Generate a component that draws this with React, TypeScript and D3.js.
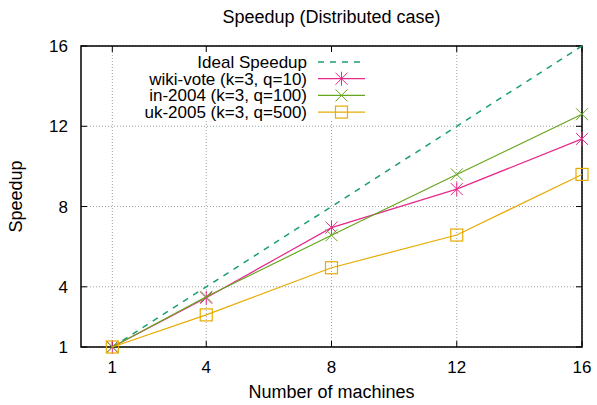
import { useEffect, useRef } from "react";
import * as d3 from "d3";

const machines = [1, 4, 8, 12, 16];
const ideal = [1, 4, 8, 12, 16];
const wikiVote = [1, 3.45, 6.95, 8.87, 11.37];
const in2004 = [1, 3.5, 6.57, 9.6, 12.6];
const uk2005 = [1, 2.6, 4.95, 6.58, 9.6];
const xTicks = [1, 4, 8, 12, 16];
const yTicks = [1, 4, 8, 12, 16];

const series = [
  { name: "wiki-vote (k=3, q=10)", values: wikiVote, color: "#e7298a", marker: "star" },
  { name: "in-2004 (k=3, q=100)", values: in2004, color: "#66a61e", marker: "cross" },
  { name: "uk-2005 (k=3, q=500)", values: uk2005, color: "#e6ab02", marker: "square" },
];

export default function App() {
  const svgRef = useRef<SVGSVGElement | null>(null);

  useEffect(() => {
    const width = 597;
    const height = 405;
    const m = { left: 81, right: 582, top: 46, bottom: 347 };
    const font = "'Liberation Sans', Arial, sans-serif";

    const svg = d3.select(svgRef.current);
    svg.selectAll("*").remove();
    svg.attr("width", width).attr("height", height).style("font-family", font);

    const x = d3.scaleLinear().domain([0, 16]).range([m.left, m.right]);
    const y = d3.scaleLinear().domain([1, 16]).range([m.bottom, m.top]);

    // grid
    const grid = svg.append("g").attr("stroke", "#a0a0a0").attr("stroke-width", 1).attr("stroke-dasharray", "1,2");
    xTicks.forEach((t) => {
      grid.append("line").attr("x1", x(t)).attr("x2", x(t)).attr("y1", m.top).attr("y2", m.bottom);
    });
    yTicks.forEach((t) => {
      grid.append("line").attr("x1", m.left).attr("x2", m.right).attr("y1", y(t)).attr("y2", y(t));
    });

    // legend background hides grid
    svg.append("rect").attr("x", 140).attr("y", 51).attr("width", 232).attr("height", 70).attr("fill", "#fff");

    // frame
    svg.append("rect")
      .attr("x", m.left).attr("y", m.top)
      .attr("width", m.right - m.left).attr("height", m.bottom - m.top)
      .attr("fill", "none").attr("stroke", "#000").attr("stroke-width", 1.5);

    const ticks = svg.append("g").attr("stroke", "#000").attr("stroke-width", 1);
    xTicks.forEach((t) => {
      ticks.append("line").attr("x1", x(t)).attr("x2", x(t)).attr("y1", m.bottom).attr("y2", m.bottom - 6);
      ticks.append("line").attr("x1", x(t)).attr("x2", x(t)).attr("y1", m.top).attr("y2", m.top + 6);
    });
    yTicks.forEach((t) => {
      ticks.append("line").attr("x1", m.left).attr("x2", m.left + 6).attr("y1", y(t)).attr("y2", y(t));
      ticks.append("line").attr("x1", m.right).attr("x2", m.right - 6).attr("y1", y(t)).attr("y2", y(t));
    });

    svg.append("g").selectAll("text").data(xTicks).join("text")
      .attr("x", (d) => x(d)).attr("y", 373)
      .attr("text-anchor", "middle").attr("font-size", 17).text((d) => d);
    svg.append("g").selectAll("text").data(yTicks).join("text")
      .attr("x", 68).attr("y", (d) => y(d) + 6)
      .attr("text-anchor", "end").attr("font-size", 17).text((d) => d);

    svg.append("text").attr("x", (m.left + m.right) / 2).attr("y", 23)
      .attr("text-anchor", "middle").attr("font-size", 18).text("Speedup (Distributed case)");
    svg.append("text").attr("x", (m.left + m.right) / 2).attr("y", 398)
      .attr("text-anchor", "middle").attr("font-size", 18).text("Number of machines");
    svg.append("text").attr("transform", `translate(22,${(m.top + m.bottom) / 2}) rotate(-90)`)
      .attr("text-anchor", "middle").attr("font-size", 18).text("Speedup");

    const line = d3.line<number>().x((_, i) => x(machines[i])).y((d) => y(d));

    const drawMarker = (g: any, cx: number, cy: number, type: string, color: string) => {
      const s = 6;
      if (type === "square") {
        g.append("rect").attr("x", cx - s).attr("y", cy - s).attr("width", 2 * s).attr("height", 2 * s)
          .attr("fill", "none").attr("stroke", color).attr("stroke-width", 1.2);
      } else {
        g.append("line").attr("x1", cx - s).attr("x2", cx + s).attr("y1", cy - s).attr("y2", cy + s).attr("stroke", color);
        g.append("line").attr("x1", cx - s).attr("x2", cx + s).attr("y1", cy + s).attr("y2", cy - s).attr("stroke", color);
        if (type === "star") {
          g.append("line").attr("x1", cx).attr("x2", cx).attr("y1", cy - s - 1).attr("y2", cy + s + 1).attr("stroke", color);
        }
      }
    };

    // ideal
    svg.append("path").datum(ideal).attr("d", line).attr("fill", "none")
      .attr("stroke", "#1b9e77").attr("stroke-width", 1.5).attr("stroke-dasharray", "6,6");

    series.forEach((s) => {
      const g = svg.append("g");
      g.append("path").datum(s.values).attr("d", line).attr("fill", "none")
        .attr("stroke", s.color).attr("stroke-width", 1.2);
      s.values.forEach((v, i) => drawMarker(g, x(machines[i]), y(v), s.marker, s.color));
    });

    // legend
    const lg = svg.append("g");
    const rows = [{ name: "Ideal Speedup", color: "#1b9e77", marker: "" }, ...series];
    rows.forEach((r, i) => {
      const cy = 62 + i * 16.7;
      lg.append("text").attr("x", 307).attr("y", cy + 6).attr("text-anchor", "end")
        .attr("font-size", 17).text(r.name);
      const l = lg.append("line").attr("x1", 318).attr("x2", 365).attr("y1", cy).attr("y2", cy)
        .attr("stroke", r.color).attr("stroke-width", r.marker ? 1.2 : 1.5);
      if (!r.marker) l.attr("stroke-dasharray", "6,6");
      else drawMarker(lg, 341.5, cy, r.marker, r.color);
    });
  }, []);

  return (
    <svg ref={svgRef} style={{ position: "absolute", left: 0, top: 0 }}></svg>
  );
}
